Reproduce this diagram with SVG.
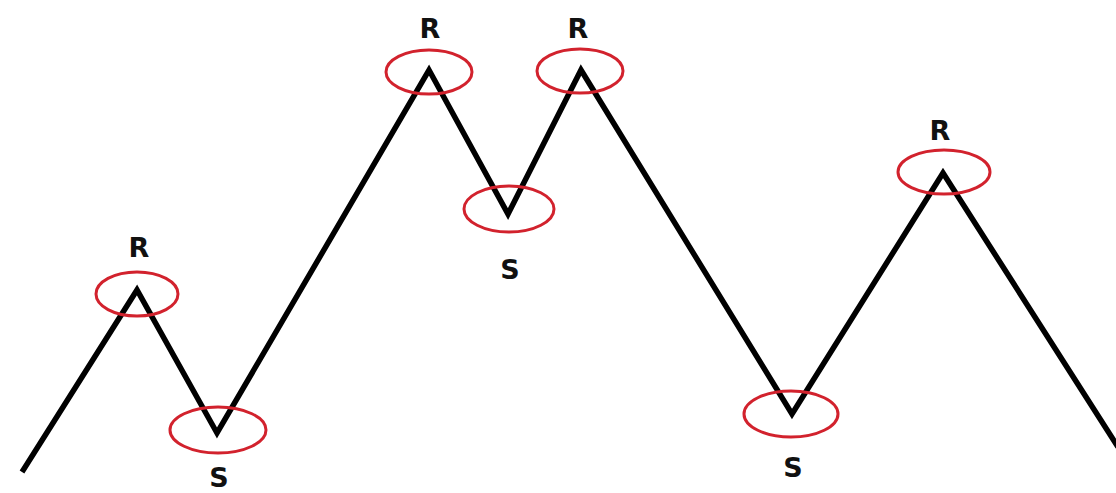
<svg xmlns="http://www.w3.org/2000/svg" width="1116" height="493" viewBox="0 0 1116 493">
<style>
.zig{fill:none;stroke:#000;stroke-width:5.5;stroke-linejoin:miter;stroke-miterlimit:10}
.ring{fill:none;stroke:#d2222d;stroke-width:3}
.lbl{font-family:"DejaVu Sans","Liberation Sans",sans-serif;font-weight:bold;font-size:27px;fill:#111;text-anchor:middle}
</style>
<rect width="1116" height="493" fill="#fff"/>
<g id="connectors">
<polyline class="zig" points="22,472 137,290 217,433 429,70 508,214 581,70 792,414 943,173 1118,447"/>
</g>
<g id="r1"><ellipse class="ring" cx="137" cy="294" rx="41" ry="22"/><text class="lbl" x="139" y="257">R</text></g>
<g id="s1"><ellipse class="ring" cx="218" cy="430" rx="48" ry="23"/><text class="lbl" x="219" y="487">S</text></g>
<g id="r2"><ellipse class="ring" cx="429" cy="72" rx="43" ry="22"/><text class="lbl" x="430" y="38">R</text></g>
<g id="s2"><ellipse class="ring" cx="509" cy="209" rx="45" ry="23"/><text class="lbl" x="510" y="279">S</text></g>
<g id="r3"><ellipse class="ring" cx="580" cy="71" rx="43" ry="22"/><text class="lbl" x="578" y="38">R</text></g>
<g id="s3"><ellipse class="ring" cx="791" cy="414" rx="47" ry="23"/><text class="lbl" x="793" y="477">S</text></g>
<g id="r4"><ellipse class="ring" cx="944" cy="172" rx="46" ry="22"/><text class="lbl" x="940" y="140">R</text></g>
</svg>
